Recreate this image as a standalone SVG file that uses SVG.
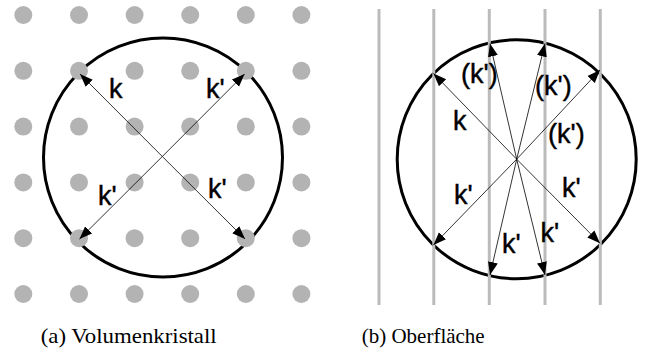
<svg xmlns="http://www.w3.org/2000/svg" width="650" height="356" viewBox="0 0 650 356">
<defs>
<style>
.dot{fill:#b3b3b3}
.vl{stroke:#bbbbbb;stroke-width:3}
.ring{fill:none;stroke:#000;stroke-width:3}
.ar{stroke:#000;stroke-width:0.8;fill:none;marker-end:url(#ah)}
.lb{font-family:"Liberation Sans",Arial,sans-serif;font-size:27px;fill:#000;stroke:#000;stroke-width:0.4}
.cap{font-family:"Liberation Serif","Times New Roman",serif;font-size:21px;fill:#000}
</style>
<marker id="ah" markerUnits="userSpaceOnUse" markerWidth="14" markerHeight="12" viewBox="0 0 14 12" refX="13" refY="6" orient="auto">
<path d="M0,1 L13,6 L0,11 Z" fill="#000"/>
</marker>
</defs>
<rect width="650" height="356" fill="#fff"/>
<g id="panel-a">
<circle id="ring-a" class="ring" cx="163" cy="157.5" r="119.5"/>
<g id="lattice">
<circle class="dot" cx="23.3" cy="15" r="9"/><circle class="dot" cx="79" cy="15" r="9"/><circle class="dot" cx="134.6" cy="15" r="9"/><circle class="dot" cx="190.2" cy="15" r="9"/><circle class="dot" cx="245.8" cy="15" r="9"/><circle class="dot" cx="301.4" cy="15" r="9"/>
<circle class="dot" cx="23.3" cy="70.8" r="9"/><circle class="dot" cx="79" cy="70.8" r="9"/><circle class="dot" cx="134.6" cy="70.8" r="9"/><circle class="dot" cx="190.2" cy="70.8" r="9"/><circle class="dot" cx="245.8" cy="70.8" r="9"/><circle class="dot" cx="301.4" cy="70.8" r="9"/>
<circle class="dot" cx="23.3" cy="126.6" r="9"/><circle class="dot" cx="79" cy="126.6" r="9"/><circle class="dot" cx="134.6" cy="126.6" r="9"/><circle class="dot" cx="190.2" cy="126.6" r="9"/><circle class="dot" cx="245.8" cy="126.6" r="9"/><circle class="dot" cx="301.4" cy="126.6" r="9"/>
<circle class="dot" cx="23.3" cy="182.4" r="9"/><circle class="dot" cx="79" cy="182.4" r="9"/><circle class="dot" cx="134.6" cy="182.4" r="9"/><circle class="dot" cx="190.2" cy="182.4" r="9"/><circle class="dot" cx="245.8" cy="182.4" r="9"/><circle class="dot" cx="301.4" cy="182.4" r="9"/>
<circle class="dot" cx="23.3" cy="238.2" r="9"/><circle class="dot" cx="79" cy="238.2" r="9"/><circle class="dot" cx="134.6" cy="238.2" r="9"/><circle class="dot" cx="190.2" cy="238.2" r="9"/><circle class="dot" cx="245.8" cy="238.2" r="9"/><circle class="dot" cx="301.4" cy="238.2" r="9"/>
<circle class="dot" cx="23.3" cy="294" r="9"/><circle class="dot" cx="79" cy="294" r="9"/><circle class="dot" cx="134.6" cy="294" r="9"/><circle class="dot" cx="190.2" cy="294" r="9"/><circle class="dot" cx="245.8" cy="294" r="9"/><circle class="dot" cx="301.4" cy="294" r="9"/>
</g>
<g id="arrows-a">
<line class="ar" x1="162.3" y1="156.5" x2="80" y2="74"/>
<line class="ar" x1="162.3" y1="156.5" x2="244.6" y2="74"/>
<line class="ar" x1="162.3" y1="156.5" x2="79.5" y2="239"/>
<line class="ar" x1="162.3" y1="156.5" x2="245" y2="239"/>
</g>
<g id="labels-a">
<text class="lb" x="109" y="98">k</text>
<text class="lb" x="206" y="98">k'</text>
<text class="lb" x="98" y="205">k'</text>
<text class="lb" x="208" y="198">k'</text>
</g>
</g>
<g id="panel-b">
<circle id="ring-b" class="ring" cx="516.7" cy="159.2" r="119.5"/>
<g id="surface-lines">
<line class="vl" x1="379" y1="9" x2="379" y2="305"/>
<line class="vl" x1="433.8" y1="9" x2="433.8" y2="305"/>
<line class="vl" x1="489.3" y1="9" x2="489.3" y2="305"/>
<line class="vl" x1="545" y1="9" x2="545" y2="305"/>
<line class="vl" x1="600.3" y1="9" x2="600.3" y2="305"/>
</g>
<g id="arrows-b">
<line class="ar" x1="516.7" y1="159.2" x2="433.5" y2="73.5"/>
<line class="ar" x1="516.7" y1="159.2" x2="490" y2="43.5"/>
<line class="ar" x1="516.7" y1="159.2" x2="545" y2="43.5"/>
<line class="ar" x1="516.7" y1="159.2" x2="600" y2="70"/>
<line class="ar" x1="516.7" y1="159.2" x2="433.5" y2="245"/>
<line class="ar" x1="516.7" y1="159.2" x2="490" y2="275"/>
<line class="ar" x1="516.7" y1="159.2" x2="545" y2="275"/>
<line class="ar" x1="516.7" y1="159.2" x2="600" y2="243.3"/>
</g>
<g id="labels-b">
<text class="lb" x="461" y="83">(k')</text>
<text class="lb" x="535" y="95">(k')</text>
<text class="lb" x="453" y="130">k</text>
<text class="lb" x="548" y="143">(k')</text>
<text class="lb" x="454" y="204">k'</text>
<text class="lb" x="562" y="196.5">k'</text>
<text class="lb" x="502" y="253">k'</text>
<text class="lb" x="540.5" y="241.5">k'</text>
</g>
</g>
<g id="captions">
<text class="cap" x="40.7" y="343" textLength="176" lengthAdjust="spacingAndGlyphs">(a) Volumenkristall</text>
<text class="cap" x="361.7" y="343" textLength="123" lengthAdjust="spacingAndGlyphs">(b) Oberfläche</text>
</g>
</svg>
